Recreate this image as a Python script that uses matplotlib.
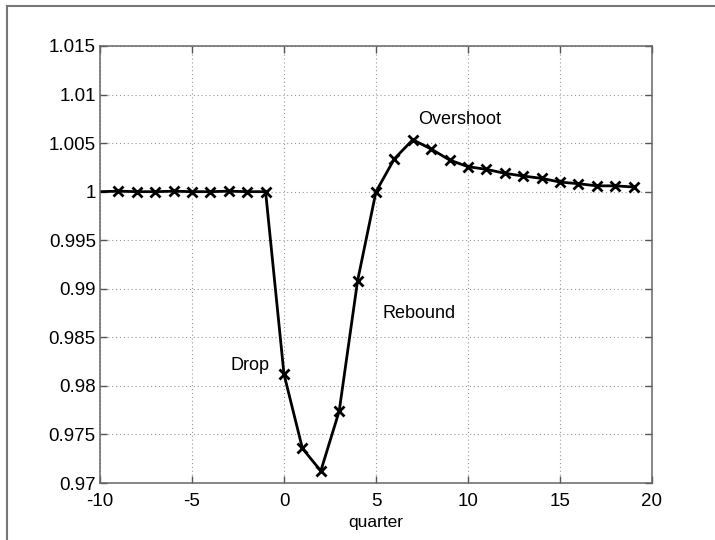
import matplotlib
matplotlib.use("Agg")
import matplotlib.pyplot as plt
from matplotlib.lines import Line2D

plt.rcParams['font.family'] = ['Liberation Sans', 'DejaVu Sans']

quarters = list(range(-10, 20))
values = [1.0000, 1.00005, 1.0000, 1.0000, 1.00005, 1.0000, 1.0000, 1.00005, 1.0000, 1.0000,
          0.9812, 0.97357, 0.97124, 0.97741, 0.99083, 1.0000, 1.00339, 1.00535, 1.00439, 1.00326,
          1.00257, 1.0023, 1.00189, 1.00161, 1.00137, 1.00099, 1.00082, 1.0006, 1.0006, 1.00048]
xticks = [-10, -5, 0, 5, 10, 15, 20]
yticks = [0.97, 0.975, 0.98, 0.985, 0.99, 0.995, 1.0, 1.005, 1.01, 1.015]
ytick_labels = ['0.97', '0.975', '0.98', '0.985', '0.99', '0.995', '1', '1.005', '1.01', '1.015']
annotations = [("Overshoot", 7.28, 1.00738), ("Rebound", 5.36, 0.98747), ("Drop", -2.93, 0.98215)]

W, H = 715, 540
fig = plt.figure(figsize=(W / 100, H / 100), dpi=100)
ax = fig.add_axes([100 / W, (H - 483) / H, (652 - 100) / W, (483 - 46) / H])

ax.plot(quarters, values, color='black', lw=2.0, marker='x', markersize=6.5,
        markeredgewidth=2.0, markevery=list(range(1, len(quarters))))

ax.set_xlim(-10, 20)
ax.set_ylim(0.97, 1.015)
ax.set_xticks(xticks)
ax.set_xticklabels([str(t) for t in xticks])
ax.set_yticks(yticks)
ax.set_yticklabels(ytick_labels)
ax.grid(True, linestyle=(0, (1, 2.5)), color='#999999', lw=0.8)
ax.tick_params(direction='in', length=5, width=1, color='#555555', labelsize=13.5,
               top=True, right=True)
ax.tick_params(axis='x', pad=7)
ax.tick_params(axis='y', pad=3)
for s in ax.spines.values():
    s.set_color('#666666')
    s.set_linewidth(1.1)
ax.set_xlabel('quarter', fontsize=12.5, labelpad=4)

for txt, x, y in annotations:
    ax.text(x, y, txt, fontsize=13, ha='left', va='center')

# figure frame (left and top)
fig.add_artist(Line2D([7 / W, 7 / W], [0, 1 - 6 / H], transform=fig.transFigure,
                      color='#777777', lw=1.5))
fig.add_artist(Line2D([7 / W, 1], [1 - 6 / H, 1 - 6 / H], transform=fig.transFigure,
                      color='#777777', lw=1.5))

fig.savefig('out.png', dpi=100)
